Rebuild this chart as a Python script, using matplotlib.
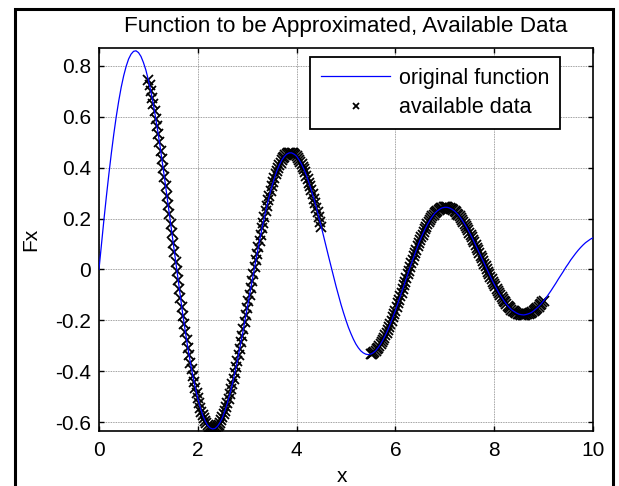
"""Function to be approximated vs the available (sampled) data -- MATLAB-style figure."""

import matplotlib
matplotlib.use("Agg")
import matplotlib.pyplot as plt
import numpy as np
from matplotlib.patches import Rectangle

X_STEP = 0.05
FX = [
    0.000, 0.099, 0.195, 0.287, 0.374, 0.456, 0.532, 0.601, 0.662, 0.716,
    0.761, 0.798, 0.827, 0.846, 0.857, 0.859, 0.852, 0.837, 0.813, 0.783,
    0.744, 0.700, 0.649, 0.592, 0.531, 0.466, 0.397, 0.326, 0.253, 0.179,
    0.105, 0.031, -0.042, -0.113, -0.182, -0.247, -0.309, -0.366, -0.418, -0.466,
    -0.507, -0.543, -0.573, -0.596, -0.613, -0.623, -0.627, -0.625, -0.616, -0.602,
    -0.582, -0.556, -0.525, -0.490, -0.450, -0.407, -0.361, -0.311, -0.260, -0.207,
    -0.153, -0.099, -0.045, 0.009, 0.061, 0.112, 0.161, 0.207, 0.250, 0.290,
    0.326, 0.358, 0.386, 0.410, 0.429, 0.443, 0.453, 0.458, 0.458, 0.453,
    0.445, 0.431, 0.414, 0.393, 0.369, 0.341, 0.311, 0.278, 0.243, 0.206,
    0.168, 0.128, 0.089, 0.049, 0.010, -0.029, -0.067, -0.103, -0.138, -0.170,
    -0.200, -0.228, -0.252, -0.274, -0.293, -0.308, -0.320, -0.328, -0.333, -0.335,
    -0.333, -0.328, -0.320, -0.308, -0.294, -0.277, -0.258, -0.237, -0.213, -0.188,
    -0.162, -0.134, -0.106, -0.077, -0.048, -0.019, 0.010, 0.037, 0.064, 0.090,
    0.115, 0.137, 0.158, 0.177, 0.194, 0.208, 0.221, 0.230, 0.237, 0.242,
    0.244, 0.244, 0.241, 0.236, 0.229, 0.219, 0.208, 0.194, 0.179, 0.163,
    0.145, 0.126, 0.106, 0.086, 0.065, 0.044, 0.023, 0.002, -0.019, -0.039,
    -0.058, -0.076, -0.094, -0.109, -0.124, -0.137, -0.148, -0.158, -0.165, -0.171,
    -0.176, -0.178, -0.179, -0.177, -0.174, -0.170, -0.163, -0.155, -0.146, -0.136,
    -0.124, -0.112, -0.098, -0.084, -0.069, -0.054, -0.038, -0.023, -0.008, 0.008,
    0.022, 0.037, 0.050, 0.063, 0.075, 0.086, 0.096, 0.105, 0.112, 0.119, 0.124,
]

# available data: two sampled stretches, every 0.025 in x
DATA_STEP = 0.025
DATA1_X0 = 1.0  # 1.0 .. 4.5
DATA1_Y = [
    0.744, 0.723, 0.700, 0.675, 0.649, 0.621, 0.592, 0.562, 0.531, 0.499,
    0.466, 0.432, 0.397, 0.362, 0.326, 0.290, 0.253, 0.216, 0.179, 0.142,
    0.105, 0.067, 0.031, -0.006, -0.042, -0.078, -0.113, -0.148, -0.182, -0.215,
    -0.247, -0.278, -0.309, -0.338, -0.366, -0.393, -0.418, -0.443, -0.466, -0.487,
    -0.507, -0.526, -0.543, -0.559, -0.573, -0.585, -0.596, -0.605, -0.613, -0.619,
    -0.623, -0.626, -0.627, -0.627, -0.625, -0.621, -0.616, -0.610, -0.602, -0.592,
    -0.582, -0.569, -0.556, -0.541, -0.525, -0.508, -0.490, -0.471, -0.450, -0.429,
    -0.407, -0.384, -0.361, -0.336, -0.311, -0.286, -0.260, -0.234, -0.207, -0.180,
    -0.153, -0.126, -0.099, -0.072, -0.045, -0.018, 0.009, 0.035, 0.061, 0.087,
    0.112, 0.137, 0.161, 0.184, 0.207, 0.229, 0.250, 0.271, 0.290, 0.309,
    0.326, 0.343, 0.358, 0.373, 0.386, 0.399, 0.410, 0.420, 0.429, 0.437,
    0.443, 0.448, 0.453, 0.456, 0.458, 0.458, 0.458, 0.456, 0.453, 0.450,
    0.445, 0.439, 0.431, 0.423, 0.414, 0.404, 0.393, 0.382, 0.369, 0.356,
    0.341, 0.326, 0.311, 0.295, 0.278, 0.260, 0.243, 0.224, 0.206, 0.187,
    0.168,
]
DATA2_X0 = 5.5  # 5.5 .. 9.0
DATA2_Y = [
    -0.333, -0.331, -0.328, -0.324, -0.320, -0.314, -0.308, -0.301, -0.294, -0.286,
    -0.277, -0.268, -0.258, -0.248, -0.237, -0.225, -0.213, -0.201, -0.188, -0.175,
    -0.162, -0.148, -0.134, -0.120, -0.106, -0.091, -0.077, -0.062, -0.048, -0.033,
    -0.019, -0.005, 0.010, 0.024, 0.037, 0.051, 0.064, 0.077, 0.090, 0.103,
    0.115, 0.126, 0.137, 0.148, 0.158, 0.168, 0.177, 0.186, 0.194, 0.201,
    0.208, 0.215, 0.221, 0.226, 0.230, 0.234, 0.237, 0.240, 0.242, 0.244,
    0.244, 0.244, 0.244, 0.243, 0.241, 0.239, 0.236, 0.233, 0.229, 0.224,
    0.219, 0.214, 0.208, 0.201, 0.194, 0.187, 0.179, 0.171, 0.163, 0.154,
    0.145, 0.136, 0.126, 0.116, 0.106, 0.096, 0.086, 0.075, 0.065, 0.054,
    0.044, 0.033, 0.023, 0.012, 0.002, -0.009, -0.019, -0.029, -0.039, -0.049,
    -0.058, -0.067, -0.076, -0.085, -0.094, -0.102, -0.109, -0.117, -0.124, -0.130,
    -0.137, -0.143, -0.148, -0.153, -0.158, -0.162, -0.165, -0.169, -0.171, -0.174,
    -0.176, -0.177, -0.178, -0.178, -0.179, -0.178, -0.177, -0.176, -0.174, -0.172,
    -0.170, -0.167, -0.163, -0.160, -0.155, -0.151, -0.146, -0.141, -0.136, -0.130,
    -0.124,
]

X_TICKS = [0, 2, 4, 6, 8, 10]
Y_TICKS = [-0.6, -0.4, -0.2, 0.0, 0.2, 0.4, 0.6, 0.8]
Y_TICK_LABELS = ["-0.6", "-0.4", "-0.2", "0", "0.2", "0.4", "0.6", "0.8"]

plt.rcParams["font.family"] = ["Liberation Sans", "DejaVu Sans"]
plt.rcParams["axes.unicode_minus"] = False
FS = 15

x = np.arange(len(FX)) * X_STEP
xd = np.concatenate([DATA1_X0 + np.arange(len(DATA1_Y)) * DATA_STEP,
                     DATA2_X0 + np.arange(len(DATA2_Y)) * DATA_STEP])
yd = np.array(DATA1_Y + DATA2_Y)

fig = plt.figure(figsize=(6.19, 4.86), dpi=100)
ax = fig.add_axes([0.1599, 0.1132, 0.798, 0.788])

ax.plot(x, FX, color="#0000ff", lw=0.9, label="original function", zorder=3)
ax.plot(xd, yd, ls="none", marker="x", ms=7.5, mew=1.3, color="black",
        label="available data", zorder=2)

ax.set_xlim(0, 10)
ax.set_ylim(-0.635, 0.87)
ax.set_xticks(X_TICKS)
ax.set_xticklabels([str(t) for t in X_TICKS])
ax.set_yticks(Y_TICKS)
ax.set_yticklabels(Y_TICK_LABELS)
ax.tick_params(direction="in", top=True, right=True, length=3.5, width=1,
               labelsize=FS, colors="black")
ax.tick_params(axis="x", pad=7)
ax.tick_params(axis="y", pad=5.5)
for sp in ax.spines.values():
    sp.set_linewidth(1.2)
ax.grid(True, ls=(0, (1, 1)), color="0.5", lw=0.6)
ax.set_axisbelow(True)

ax.set_title("Function to be Approximated, Available Data", fontsize=16.2, pad=11.5)
ax.set_xlabel("x", fontsize=FS)
ax.set_ylabel("Fx", fontsize=FS)
ax.xaxis.set_label_coords(0.493, -0.094)
ax.yaxis.set_label_coords(-0.118, 0.5)

leg = ax.legend(loc="upper right", bbox_to_anchor=(0.933, 0.977), borderaxespad=0,
                fontsize=15.5, handlelength=3.2, handletextpad=0.4, borderpad=0.5,
                labelspacing=0.4, fancybox=False, framealpha=1, edgecolor="black",
                markerscale=0.55)
leg.get_frame().set_linewidth(1.3)

# outer figure border (bottom edge is cropped off in the original)
fig.patches.append(Rectangle((0.025, -0.1), 0.9645, 1.0805, transform=fig.transFigure,
                             fill=False, lw=2.2, edgecolor="black"))

fig.savefig("out.png", dpi=100)
